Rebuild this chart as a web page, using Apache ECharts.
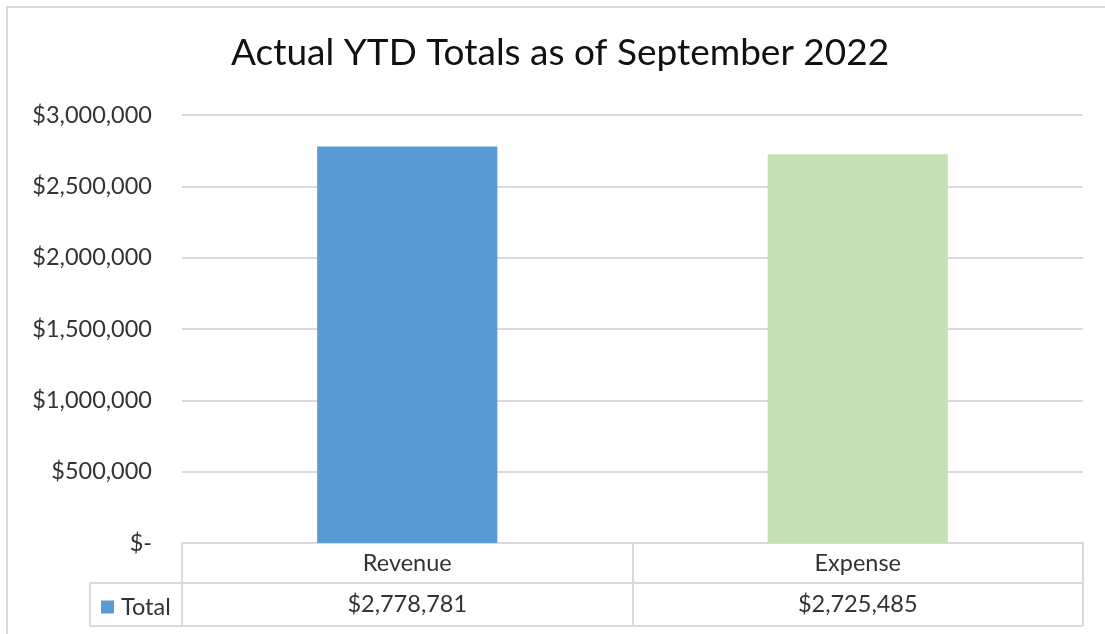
<!DOCTYPE html>
<html>
<head>
<meta charset="utf-8">
<script src="https://cdn.jsdelivr.net/npm/echarts@6/dist/echarts.min.js"></script>
<style>
  html, body { margin: 0; padding: 0; background: #fff; }
  #chart { width: 1105px; height: 634px; }
</style>
</head>
<body>
<div id="chart"></div>
<script>
const titleText = 'Actual YTD Totals as of September 2022';
const categories = ['Revenue', 'Expense'];
const seriesName = 'Total';
const totals = [2778781, 2725485];
const barColors = ['#5B9BD5', '#C5E0B4'];
const yMin = 0, yMax = 3000000, yStep = 500000;

const FONT = 'Lato';
const GRID = { left: 182, right: 22, top: 115, bottom: 91 };
const W = 1105, H = 634;
const LINE = '#D9D9D9';
const TXT = '#333333';

function money(v) {
  if (v === 0) return '$-';
  return '$' + Math.round(v).toString().replace(/\B(?=(\d{3})+(?!\d))/g, ',');
}

const chart = echarts.init(document.getElementById('chart'), null, { renderer: 'canvas' });

const axisBottom = H - GRID.bottom;      // y of category axis
const rowMid = axisBottom + 40;          // table row separator
const tableBottom = axisBottom + 83;     // table bottom
const gridRight = W - GRID.right;
const legendLeft = 90;

chart.setOption({
  animation: false,
  backgroundColor: '#fff',
  textStyle: { fontFamily: FONT },
  title: {
    text: titleText,
    left: 226,
    top: 30,
    textStyle: { fontFamily: FONT, fontSize: 37, fontWeight: 'normal', color: '#111111' }
  },
  legend: {
    data: [seriesName],
    left: 96,
    top: rowMid + 7,
    icon: 'rect',
    itemWidth: 13,
    itemHeight: 13,
    itemGap: 8,
    textStyle: { fontFamily: FONT, fontSize: 23.5, color: TXT, padding: [0, 0, 0, 2] }
  },
  grid: { left: GRID.left, right: GRID.right, top: GRID.top, bottom: GRID.bottom, containLabel: false },
  xAxis: {
    type: 'category',
    data: categories,
    boundaryGap: true,
    axisLine: { show: true, lineStyle: { color: LINE, width: 2 } },
    axisTick: { show: true, length: 83, lineStyle: { color: LINE, width: 2 } },
    axisLabel: {
      margin: 0,
      interval: 0,
      formatter: function (val, idx) {
        return '{c|' + val + '}\n{v|' + money(totals[idx]) + '}';
      },
      rich: {
        c: { fontFamily: FONT, fontSize: 23.5, color: TXT, lineHeight: 41, align: 'center' },
        v: { fontFamily: FONT, fontSize: 23.5, color: TXT, lineHeight: 41, align: 'center' }
      }
    }
  },
  yAxis: {
    type: 'value',
    min: yMin,
    max: yMax,
    interval: yStep,
    axisLine: { show: false },
    axisTick: { show: false },
    splitLine: { show: true, lineStyle: { color: LINE, width: 2 } },
    axisLabel: {
      margin: 30,
      formatter: money,
      fontFamily: FONT,
      fontSize: 23.5,
      color: TXT
    }
  },
  series: [{
    name: seriesName,
    type: 'bar',
    barWidth: '40%',
    itemStyle: { color: barColors[0] },
    data: totals.map(function (v, i) {
      return { value: v, itemStyle: { color: barColors[i] } };
    })
  }],
  graphic: [
    { type: 'rect', silent: true, z: -1,
      shape: { x: 7, y: 7, width: W + 20, height: H + 20 },
      style: { fill: 'none', stroke: LINE, lineWidth: 2 } },
    { type: 'line', silent: true,
      shape: { x1: legendLeft, y1: rowMid, x2: gridRight, y2: rowMid },
      style: { stroke: LINE, lineWidth: 2 } },
    { type: 'line', silent: true,
      shape: { x1: legendLeft, y1: tableBottom, x2: gridRight, y2: tableBottom },
      style: { stroke: LINE, lineWidth: 2 } },
    { type: 'line', silent: true,
      shape: { x1: legendLeft, y1: rowMid, x2: legendLeft, y2: tableBottom },
      style: { stroke: LINE, lineWidth: 2 } }
  ]
});
</script>
</body>
</html>
